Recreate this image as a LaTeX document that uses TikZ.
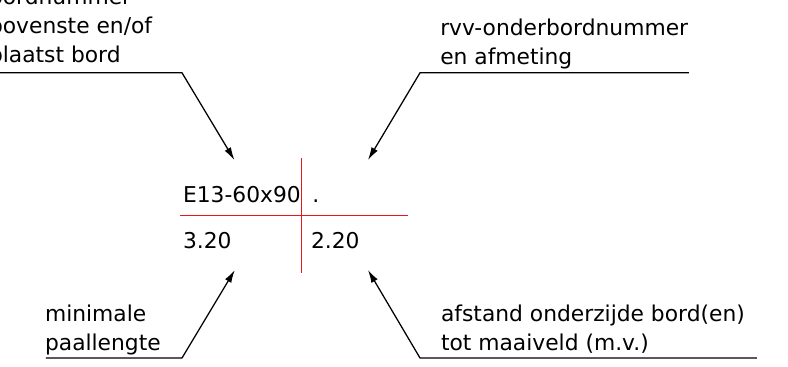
\documentclass[tikz,border=0pt]{standalone}
\usepackage{fontspec}
\setmainfont{DejaVu Sans}
\usetikzlibrary{arrows.meta}
\definecolor{crossred}{RGB}{235,20,30}

\begin{document}
\begin{tikzpicture}[
    notetext/.style={anchor=base west, align=left, inner sep=0pt,
      font=\fontsize{15.5}{20.8}\selectfont},
    celltext/.style={anchor=base west, inner sep=0pt,
      font=\fontsize{15.5}{19}\selectfont},
    leader/.style={draw, line width=0.9pt, -{Latex[length=3.2mm,width=1.8mm]}},
    crossline/.style={draw=crossred, line width=1.1pt}]

        \clip (-7.54,-3.78) rectangle (12.16,5.39);

        \begin{scope}[every node/.style={notetext}]
          \node (bovenste) at (-7.82,3.82) {bordnummer\\bovenste en/of\\plaatst bord};
          \node (rvv)      at (3.46,3.77)  {rvv-onderbordnummer\\en afmeting};
          \node (paal)     at (-6.42,-3.37) {minimale\\paallengte};
          \node (afstand)  at (3.48,-3.37) {afstand onderzijde bord(en)\\tot maaiveld (m.v.)};
        \end{scope}

        \begin{scope}[every node/.style={celltext}]
          \node (code)  at (-2.97,0.34) {E13-60x90};
          \node (dot)   at (0.26,0.34)  {.};
          \node (lang)  at (-2.97,-0.83) {3.20};
          \node (hoogte) at (0.23,-0.83) {2.20};
        \end{scope}

        \coordinate (crossW) at (-3.04,0);
        \coordinate (crossE) at (2.66,0);
        \coordinate (crossN) at (0,1.44);
        \coordinate (crossS) at (0,-1.43);
        \path[crossline] (crossW) -- (crossE);
        \path[crossline] (crossN) -- (crossS);

        \coordinate (bovensteStart) at (-7.7,3.57);
        \coordinate (bovensteBend)  at (-2.99,3.57);
        \coordinate (bovensteTip)   at (-1.68,1.39);
        \coordinate (rvvStart) at (9.68,3.57);
        \coordinate (rvvBend)  at (2.96,3.57);
        \coordinate (rvvTip)   at (1.66,1.39);
        \coordinate (paalStart) at (-6.39,-3.56);
        \coordinate (paalBend)  at (-2.99,-3.56);
        \coordinate (paalTip)   at (-1.67,-1.36);
        \coordinate (afstandStart) at (11.38,-3.56);
        \coordinate (afstandBend)  at (2.96,-3.56);
        \coordinate (afstandTip)   at (1.66,-1.36);

        \path[leader] (bovensteStart) -- (bovensteBend) -- (bovensteTip);
        \path[leader] (rvvStart) -- (rvvBend) -- (rvvTip);
        \path[leader] (paalStart) -- (paalBend) -- (paalTip);
        \path[leader] (afstandStart) -- (afstandBend) -- (afstandTip);

      \end{tikzpicture}
\end{document}
